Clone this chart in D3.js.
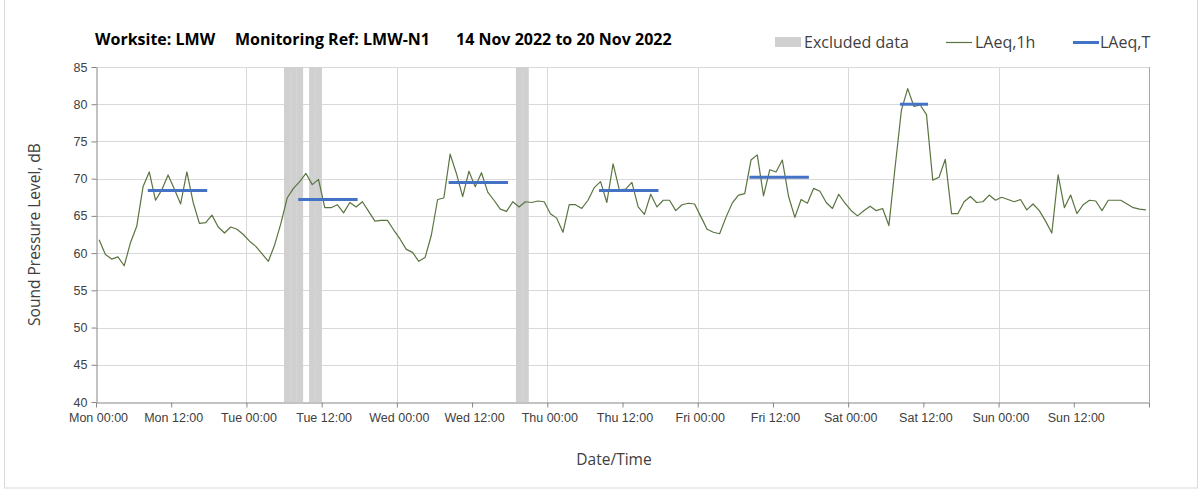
<!DOCTYPE html>
<html>
<head>
<meta charset="utf-8">
<script src="https://cdn.jsdelivr.net/npm/d3@7"></script>
<style>
  body { margin: 0; background: #fff; }
  svg { font-family: 'Open Sans', sans-serif; }
</style>
</head>
<body>
<svg width="1203" height="492"></svg>
<script>
// hourly LAeq,1h values, one array per day (00:00 .. 23:00)
const mon = [61.8, 59.8, 59.2, 59.5, 58.3, 61.4, 63.6, 68.9, 70.9, 67.1, 68.5, 70.5, 68.6, 66.6, 70.9, 66.8, 64.0, 64.1, 65.1, 63.5, 62.7, 63.5, 63.2, 62.5];
const tue = [61.6, 60.9, 59.9, 58.9, 61.1, 64.0, 67.4, 68.7, 69.6, 70.7, 69.2, 69.9, 66.1, 66.1, 66.5, 65.4, 66.8, 66.2, 66.9, 65.6, 64.3, 64.4, 64.4, 63.1];
const wed = [61.9, 60.5, 60.1, 58.9, 59.4, 62.4, 67.2, 67.4, 73.3, 70.7, 67.6, 71.0, 68.9, 70.8, 68.2, 67.1, 65.9, 65.6, 66.9, 66.2, 66.9, 66.8, 67.0, 66.9];
const thu = [65.3, 64.7, 62.8, 66.5, 66.5, 66.0, 67.1, 68.8, 69.6, 66.8, 72.0, 68.5, 68.6, 69.5, 66.2, 65.2, 67.9, 66.2, 67.1, 67.1, 65.7, 66.5, 66.7, 66.6];
const fri = [64.9, 63.2, 62.8, 62.6, 64.8, 66.7, 67.8, 68.0, 72.5, 73.2, 67.7, 71.2, 70.9, 72.5, 67.6, 64.8, 67.2, 66.7, 68.7, 68.3, 66.8, 66.0, 67.9, 66.7];
const sat = [65.7, 65.0, 65.7, 66.3, 65.7, 66.0, 63.7, 71.6, 79.2, 82.1, 79.7, 79.9, 78.6, 69.8, 70.2, 72.6, 65.3, 65.3, 66.9, 67.6, 66.8, 66.9, 67.8, 67.1];
const sun = [67.5, 67.2, 66.9, 67.2, 65.8, 66.6, 65.7, 64.3, 62.7, 70.5, 66.1, 67.8, 65.3, 66.5, 67.1, 67.0, 65.7, 67.1, 67.1, 67.1, 66.6, 66.1, 65.9, 65.8];

// LAeq,T periods (first and last hour, hours from Mon 00:00) and level
const periodStart = [8, 32, 56, 80, 104, 128];
const periodEnd = [17, 41, 65, 89, 113, 132];
const periodLevel = [68.4, 67.2, 69.5, 68.4, 70.2, 80.0];

// hours flagged as excluded data
const excludedHours = [30, 31, 32, 34, 35, 67, 68];

const yTicks = [40, 45, 50, 55, 60, 65, 70, 75, 80, 85];
const titleParts = ['Worksite: LMW', 'Monitoring Ref: LMW-N1', '14 Nov 2022 to 20 Nov 2022'];
const legendLabels = ['Excluded data', 'LAeq,1h', 'LAeq,T'];

const HOUR = 3600 * 1000;
const t0 = Date.UTC(2022, 10, 14);
const hourly = [].concat(mon, tue, wed, thu, fri, sat, sun)
    .map((v, i) => ({t: new Date(t0 + (i + 0.5) * HOUR), v: v}));

const svg = d3.select('svg');
const plotLeft = 96;
const plotRight = 1149;
const plotTop = 67;
const plotBottom = 402;

const x = d3.scaleUtc()
    .domain([new Date(t0), new Date(t0 + 168 * HOUR)])
    .range([plotLeft, plotRight]);
const y = d3.scaleLinear().domain([40, 85]).range([plotBottom, plotTop]);

// outer frame
svg.append('rect')
    .attr('x', 4.5).attr('y', -1).attr('width', 1193).attr('height', 489)
    .attr('fill', '#fff').attr('stroke', '#d9d9d9');

// gridlines
svg.append('g').selectAll('line')
    .data(yTicks.slice(1))
    .enter().append('line')
    .attr('x1', plotLeft).attr('x2', plotRight)
    .attr('y1', (d) => Math.round(y(d)) + 0.5)
    .attr('y2', (d) => Math.round(y(d)) + 0.5)
    .attr('stroke', '#d9d9d9');
svg.append('g').selectAll('line')
    .data(d3.range(1, 7))
    .enter().append('line')
    .attr('x1', (d) => Math.round(x(new Date(t0 + d * 24 * HOUR))) + 0.5)
    .attr('x2', (d) => Math.round(x(new Date(t0 + d * 24 * HOUR))) + 0.5)
    .attr('y1', plotTop).attr('y2', plotBottom)
    .attr('stroke', '#d9d9d9');
svg.append('line')
    .attr('x1', plotRight + 0.5).attr('x2', plotRight + 0.5)
    .attr('y1', plotTop).attr('y2', plotBottom)
    .attr('stroke', '#a6a6a6');

// excluded data bars
svg.append('g').selectAll('rect')
    .data(excludedHours)
    .enter().append('rect')
    .attr('x', (d) => x(new Date(t0 + d * HOUR)))
    .attr('width', (d) => x(new Date(t0 + (d + 1) * HOUR)) - x(new Date(t0 + d * HOUR)) + 0.3)
    .attr('y', plotTop)
    .attr('height', plotBottom - plotTop)
    .attr('fill', '#d0d0d0');

// axes
const yAxis = svg.append('g')
    .attr('transform', `translate(${plotLeft + 0.5},0)`)
    .call(d3.axisLeft(y).tickValues(yTicks).tickSize(5).tickPadding(4).tickSizeOuter(0));
const xTickTimes = d3.range(0, 15).map((d) => new Date(t0 + d * 12 * HOUR));
const xAxis = svg.append('g')
    .attr('transform', `translate(0,${plotBottom + 0.5})`)
    .call(d3.axisBottom(x)
        .tickValues(xTickTimes)
        .tickFormat((d, i) => i < 14 ? d3.utcFormat('%a %H:%M')(d) : '')
        .tickSize(5).tickPadding(6).tickSizeOuter(0));
[yAxis, xAxis].forEach((g) => {
  g.select('.domain').attr('stroke', '#868686');
  g.selectAll('.tick line').attr('stroke', '#868686');
  g.selectAll('.tick text').attr('fill', '#404040').style('font-size', '12.5px');
});
xAxis.selectAll('.tick text').attr('dx', 2);

// LAeq,1h line
svg.append('path')
    .datum(hourly)
    .attr('fill', 'none')
    .attr('stroke', '#5a7440')
    .attr('stroke-width', 1.2)
    .attr('stroke-linejoin', 'round')
    .attr('d', d3.line().x((d) => x(d.t)).y((d) => y(d.v)));

// LAeq,T segments
svg.append('g').selectAll('line')
    .data(periodLevel)
    .enter().append('line')
    .attr('x1', (d, i) => x(new Date(t0 + (periodStart[i] + 0.5) * HOUR)))
    .attr('x2', (d, i) => x(new Date(t0 + (periodEnd[i] + 0.5) * HOUR)))
    .attr('y1', (d) => y(d))
    .attr('y2', (d) => y(d))
    .attr('stroke', '#4472c4')
    .attr('stroke-width', 3)
    .attr('stroke-linecap', 'square');

// title
const titleX = [95, 235, 456];
svg.append('g').selectAll('text')
    .data(titleParts)
    .enter().append('text')
    .attr('x', (d, i) => titleX[i])
    .attr('y', 45)
    .style('font-size', '16px')
    .style('font-weight', 'bold')
    .attr('fill', '#000')
    .text((d) => d);

// legend
const legend = svg.append('g').style('font-size', '16px').attr('fill', '#404040');
legend.append('rect').attr('x', 775).attr('y', 37).attr('width', 26).attr('height', 10)
    .attr('fill', '#d0d0d0');
legend.append('line').attr('x1', 946).attr('x2', 972).attr('y1', 42.5).attr('y2', 42.5)
    .attr('stroke', '#5a7440').attr('stroke-width', 1.2);
legend.append('line').attr('x1', 1073).attr('x2', 1099).attr('y1', 42.5).attr('y2', 42.5)
    .attr('stroke', '#4472c4').attr('stroke-width', 3);
const legendX = [804, 975, 1100];
legend.selectAll('text.lab')
    .data(legendLabels)
    .enter().append('text')
    .attr('class', 'lab')
    .attr('x', (d, i) => legendX[i])
    .attr('y', 48)
    .text((d) => d);

// axis titles
svg.append('text')
    .attr('transform', `translate(40,${(plotTop + plotBottom) / 2}) rotate(-90)`)
    .attr('text-anchor', 'middle')
    .style('font-size', '15.5px')
    .attr('fill', '#404040')
    .text('Sound Pressure Level, dB');
svg.append('text')
    .attr('x', 614)
    .attr('y', 465)
    .attr('text-anchor', 'middle')
    .style('font-size', '15.5px')
    .attr('fill', '#404040')
    .text('Date/Time');
</script>
</body>
</html>
